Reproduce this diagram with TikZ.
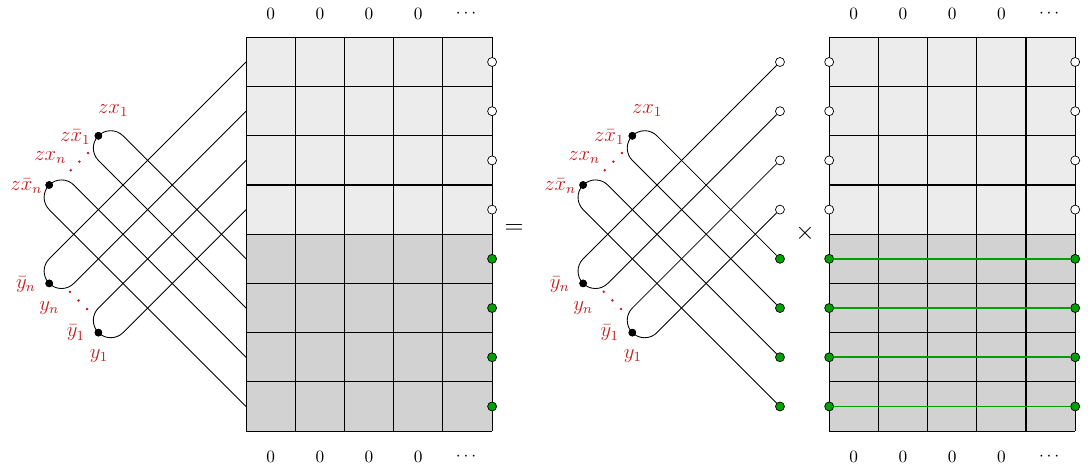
\documentclass[tikz,border=0pt]{standalone}
\usepackage{amsmath}
\usepackage{amssymb}
\usepackage{tikz}
\usepackage{xcolor}
\usetikzlibrary{calc}

\definecolor{lblred}{RGB}{196,30,30}
\definecolor{portgreen}{RGB}{0,160,0}

\tikzset{
  port/.style={circle,draw,fill=white,inner sep=0pt,minimum size=5.2pt},
  gport/.style={port,fill=portgreen},
  knot/.style={circle,fill=black,inner sep=0pt,minimum size=4.4pt},
  lbl/.style={text=lblred,inner sep=0.5pt,font=\large},
  wire/.style={portgreen,line width=1pt},
  strand/.style={line width=0.5pt},
}

\begin{document}
\begin{tikzpicture}
    \useasboundingbox (-5,-0.75) rectangle (17.11,8.76);

    % Left grid
    \fill[gray!15] (0,4) rectangle (5,8);
    \fill[gray!35] (0,0) rectangle (5,4);
    \draw[semithick] (0,0) grid (5,8);

    % Right grid
    \begin{scope}[xshift=11.85cm]
        \fill[gray!15] (0,4) rectangle (5,8);
        \fill[gray!35] (0,0) rectangle (5,4);
        \draw[semithick] (0,0) grid (5,8);
    \end{scope}

    % Boundary values
    \foreach \s/\g in {0/l,11.85/r} {
        \foreach \c in {0,...,3} {
            \node (\g top\c) at (\s+\c+0.5,8.48) {$0$};
            \node (\g bot\c) at (\s+\c+0.5,-0.53) {$0$};
        }
        \node (\g top4) at (\s+4.5,8.48) {$\cdots$};
        \node (\g bot4) at (\s+4.5,-0.53) {$\cdots$};
    }

    % Hairpins
    \foreach \s/\p/\up/\dn in {0/a/coordinate/coordinate,10.85/b/port/gport} {
        \begin{scope}[xshift=\s cm]
            \foreach \i in {1,...,4} \node[\dn] (\p\i) at (0,\i-0.5) {};
            \foreach \i in {5,...,8} \node[\up] (\p\i) at (0,\i-0.5) {};

            \node[knot] (\p-xa) at (-3,6) {};
            \node[knot] (\p-xn) at (-4,5) {};
            \node[knot] (\p-yn) at (-4,3) {};
            \node[knot] (\p-ya) at (-3,2) {};

            \draw[strand] (\p8) -- ($(\p-yn)+(0,0.5)$) to[out=225,in=135] (\p-yn.center)
                to[out=-45,in=225] ($(\p-yn)+(0.5,0)$) -- (\p7);
            \draw[strand] (\p6) -- ($(\p-ya)+(0,0.5)$) to[out=225,in=135] (\p-ya.center)
                to[out=-45,in=225] ($(\p-ya)+(0.5,0)$) -- (\p5);
            \draw[strand] (\p4) -- ($(\p-xa)+(0.5,0)$) to[out=135,in=45] (\p-xa.center)
                to[out=225,in=135] ($(\p-xa)+(0,-0.5)$) -- (\p3);
            \draw[strand] (\p2) -- ($(\p-xn)+(0.5,0)$) to[out=135,in=45] (\p-xn.center)
                to[out=225,in=135] ($(\p-xn)+(0,-0.5)$) -- (\p1);

            \node[knot] at (\p-xa) {};
            \node[knot] at (\p-xn) {};
            \node[knot] at (\p-yn) {};
            \node[knot] at (\p-ya) {};

            % Labels
            \node[lbl] (\p-lxa) at (-2.70,6.52) {$zx_1$};
            \node[lbl,anchor=east] (\p-lxab) at (-3.14,5.98) {$z\bar{x}_1$};
            \node[lbl] (\p-lxn) at (-3.98,5.55) {$zx_n$};
            \node[lbl,anchor=east] (\p-lxnb) at (-4.12,4.98) {$z\bar{x}_n$};
            \node[lbl,anchor=east] (\p-lynb) at (-4.25,2.97) {$\bar{y}_n$};
            \node[lbl] (\p-lyn) at (-4.00,2.50) {$y_n$};
            \node[lbl,anchor=east] (\p-lyab) at (-3.25,1.99) {$\bar{y}_1$};
            \node[lbl] (\p-lya) at (-2.99,1.52) {$y_1$};
            \foreach \k in {0,1,2} {
                \fill[lblred] (-3.21-0.175*\k,5.65-0.175*\k) circle (0.8pt);
                \fill[lblred] (-3.58+0.175*\k,2.83-0.175*\k) circle (0.8pt);
            }
        \end{scope}
    }

    % Ports on the grids
    \foreach \i in {1,...,4} {
        \node[gport] (e\i) at (5,\i-0.5) {};
        \node[gport] (c\i) at (11.85,\i-0.5) {};
        \node[gport] (d\i) at (16.85,\i-0.5) {};
        \draw[wire] (c\i) -- (d\i);
    }
    \foreach \i in {5,...,8} {
        \node[port] (e\i) at (5,\i-0.5) {};
        \node[port] (c\i) at (11.85,\i-0.5) {};
        \node[port] (d\i) at (16.85,\i-0.5) {};
    }

    \node[font=\Large] (eq) at (5.45,4.1) {$=$};
    \node[font=\Large] (times) at (11.36,4.02) {$\times$};
\end{tikzpicture}
\end{document}
